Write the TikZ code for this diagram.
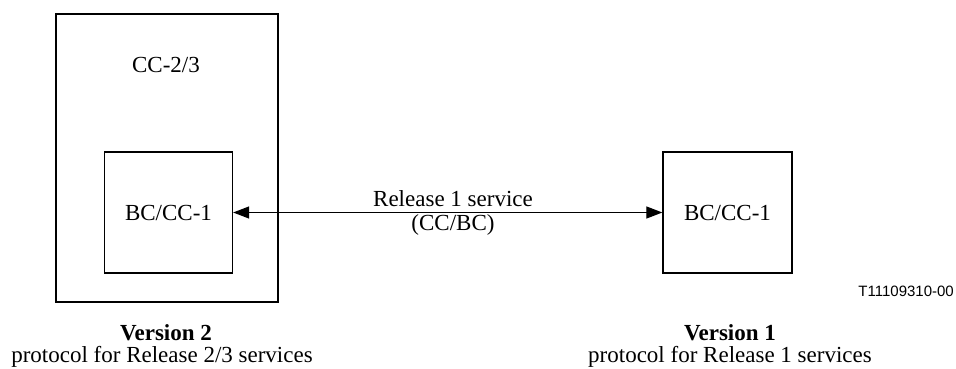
\documentclass[tikz,border=0pt]{standalone}
\usepackage{fontspec}
\setmainfont{Liberation Serif}
\newfontfamily\arialfont{Liberation Sans}
\usetikzlibrary{arrows.meta}
\begin{document}
\begin{tikzpicture}[x=1pt,y=-1pt,
  box/.style={draw,line width=1.3pt,inner sep=0pt},
  lbl/.style={font=\fontsize{23}{27}\selectfont,inner sep=0pt},
  arr/.style={line width=1.2pt,{Triangle[length=16pt,width=12pt]}-{Triangle[length=16pt,width=12pt]}}]
\useasboundingbox (0,0) rectangle (956,369);
\node[box,minimum width=222pt,minimum height=288pt] (outer) at (167,158) {};
\node[box,minimum width=128pt,minimum height=121pt] (inner) at (168.5,212.5) {};
\node[box,minimum width=129pt,minimum height=121pt] (right) at (727.5,212.5) {};
\node[lbl] (cc23) at (166,65) {CC-2/3};
\node[lbl] (bcl) at (inner.center) {BC/CC-1};
\node[lbl] (bcr) at (right.center) {BC/CC-1};
\draw[arr] (inner.east) -- (right.west);
\node[lbl,anchor=base] (rel) at (453,206) {Release 1 service};
\node[lbl,anchor=base] (ccbc) at (453,230) {(CC/BC)};
\node[font=\arialfont\fontsize{15}{18}\selectfont,inner sep=0pt,anchor=east] (tid) at (954,291) {T11109310-00};
\node[lbl,font=\fontsize{23}{27}\selectfont\bfseries,anchor=base] (v2) at (166,340) {Version 2};
\node[lbl,anchor=base] (p2) at (162,362) {protocol for Release 2/3 services};
\node[lbl,font=\fontsize{23}{27}\selectfont\bfseries,anchor=base] (v1) at (730,340) {Version 1};
\node[lbl,anchor=base] (p1) at (730,362) {protocol for Release 1 services};
\end{tikzpicture}
\end{document}
